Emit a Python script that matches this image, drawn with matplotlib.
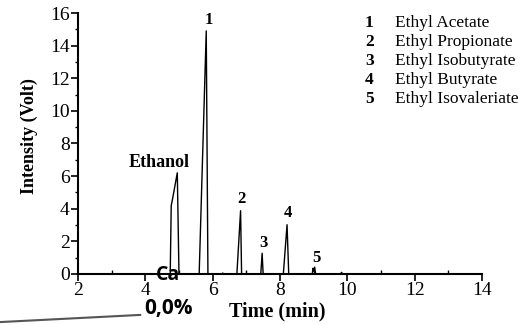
import matplotlib.pyplot as plt
from matplotlib.ticker import MultipleLocator

# chromatogram points (time in min, intensity in Volt)
time = [2.0, 4.74, 4.77, 4.80, 4.95, 5.00, 5.60, 5.81, 5.86, 6.28, 6.30, 6.32,
        6.72, 6.83, 6.86, 7.43, 7.47, 7.50, 8.10, 8.21, 8.26,
        8.96, 8.98, 9.00, 9.03, 9.06, 9.80, 9.83, 9.86, 14.0]
intensity = [0.0, 0.0, 4.2, 4.5, 6.2, 0.0, 0.0, 14.9, 0.0, 0.0, 0.06, 0.0,
             0.0, 3.88, 0.0, 0.0, 1.27, 0.0, 0.0, 3.02, 0.0,
             0.0, 0.35, 0.18, 0.42, 0.0, 0.0, 0.1, 0.0, 0.0]

peak_ids = ["1", "2", "3", "4", "5"]
peak_names = ["Ethyl Acetate", "Ethyl Propionate", "Ethyl Isobutyrate",
              "Ethyl Butyrate", "Ethyl Isovaleriate"]
peak_label_xy = [(5.88, 15.3), (6.87, 4.36), (7.52, 1.65), (8.24, 3.5), (9.07, 0.74)]

serif = "Liberation Serif"

fig = plt.figure(figsize=(5.29, 3.25), dpi=100)
ax = fig.add_axes([0.1474, 0.157, 0.7637, 0.803])

ax.plot(time, intensity, color="black", lw=1.0)

ax.set_xlim(2, 14)
ax.set_ylim(0, 16)
ax.xaxis.set_major_locator(MultipleLocator(2))
ax.xaxis.set_minor_locator(MultipleLocator(1))
ax.yaxis.set_major_locator(MultipleLocator(2))
ax.yaxis.set_minor_locator(MultipleLocator(1))
ax.tick_params(which="major", direction="out", length=5, width=1.2, pad=1,
               labelsize=14)
ax.tick_params(axis="x", which="minor", direction="in", length=3, width=1.0)
ax.tick_params(axis="y", which="minor", direction="out", length=2.5, width=1.0)
for lab in ax.get_xticklabels() + ax.get_yticklabels():
    lab.set_fontfamily(serif)

for s in ["top", "right"]:
    ax.spines[s].set_visible(False)
for s in ["left", "bottom"]:
    ax.spines[s].set_linewidth(1.5)

# axis titles
fig.text(0.055, 0.582, "Intensity (Volt)", fontfamily=serif, fontweight="bold",
         fontsize=13, rotation=90, ha="center", va="center")
fig.text(0.5236, 0.043, "Time (min)", fontfamily=serif, fontweight="bold",
         fontsize=14.5, ha="center", va="center")

for pid, (px, py) in zip(peak_ids, peak_label_xy):
    ax.text(px, py, pid, fontfamily=serif, fontweight="bold", fontsize=12,
            ha="center", va="baseline")
ax.text(4.42, 6.55, "Ethanol", fontfamily=serif, fontweight="bold",
        fontsize=13, ha="center", va="baseline")

# legend of peak numbers
for i, (pid, name) in enumerate(zip(peak_ids, peak_names)):
    yy = 0.929 - i * 0.0585
    fig.text(0.698, yy, pid, fontfamily=serif, fontweight="bold",
             fontsize=12.5, ha="center", va="center")
    fig.text(0.747, yy, name, fontfamily=serif, fontsize=12.5,
             ha="left", va="center")

# stray artefacts in the original image
fig.text(0.318, 0.154, "Ca", fontfamily="Open Sans", fontweight="bold",
         fontsize=14, ha="center", va="center")
fig.text(0.319, 0.05, "0,0%", fontfamily="Open Sans", fontweight="bold",
         fontsize=15, ha="center", va="center")
fig.add_artist(plt.Line2D([0.0, 0.265], [0.009, 0.031], color="#555555",
                          lw=1.5, transform=fig.transFigure))

fig.savefig("out.png", dpi=100)
